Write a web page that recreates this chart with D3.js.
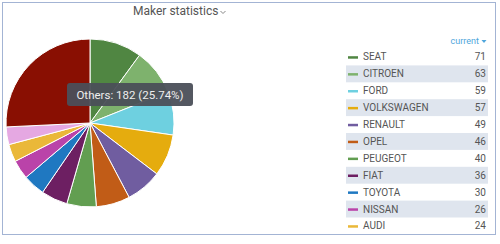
<!DOCTYPE html>
<html>
<head>
<meta charset="utf-8">
<script src="https://cdn.jsdelivr.net/npm/d3@7"></script>
<style>
	body { margin: 0; background: #fff; }
	svg { display: block; font-family: Roboto, "Open Sans", sans-serif; }
	.title { font-size: 12px; fill: #555; }
	.legend text { font-size: 10px; fill: #555; }
	.current { font-size: 9px; fill: #4fa6dc; }
	.tip { font-size: 11.5px; fill: #eee; }
</style>
</head>
<body>
<svg width="500" height="244"></svg>
<script>
// slices, clockwise from the top; the pink one is not listed in the visible legend
const makers = ['SEAT', 'CITROEN', 'FORD', 'VOLKSWAGEN', 'RENAULT', 'OPEL', 'PEUGEOT', 'FIAT', 'TOYOTA', 'NISSAN', 'AUDI', 'hidden', 'Others'];
const counts = [71, 63, 59, 57, 49, 46, 40, 36, 30, 26, 24, 24, 182];
const colours = ['#508642', '#7EB26D', '#6ED0E0', '#E5AC0E', '#705DA0', '#C15C17', '#629E51', '#6D1F62', '#1F78C1', '#BA43A9', '#EAB839', '#E5A8E2', '#890F02'];
const legendCount = 11;

const data = makers.map((name, i) => ({ name, value: counts[i], colour: colours[i] }));
const total = d3.sum(counts);

const svg = d3.select('svg');

svg.append('rect')
	.attr('x', 2.5)
	.attr('y', 2.5)
	.attr('width', 493)
	.attr('height', 232)
	.attr('fill', '#fff')
	.attr('stroke', '#a3b4d4');

svg.append('text')
	.text('Maker statistics')
	.attr('class', 'title')
	.attr('x', 133)
	.attr('y', 15);

svg.append('path')
	.attr('d', 'M 220.5 11 l 2.5 2.5 l 2.5 -2.5')
	.attr('fill', 'none')
	.attr('stroke', '#888')
	.attr('stroke-width', 1);

// pie
const pie = d3.pie().sort(null).value((d) => d.value);
const arc = d3.arc().innerRadius(0).outerRadius(84);

svg.append('g')
	.attr('transform', 'translate(90 123)')
	.selectAll('path')
	.data(pie(data))
	.enter()
	.append('path')
	.attr('d', arc)
	.attr('fill', (d) => d.data.colour)
	.attr('stroke', '#fff')
	.attr('stroke-width', 1);

// tooltip for the hovered slice
const others = data[data.length - 1];
const tip = svg.append('g').attr('transform', 'translate(67 83)');

tip.append('rect')
	.attr('width', 126)
	.attr('height', 23)
	.attr('rx', 3)
	.attr('fill', '#4b4f58')
	.attr('opacity', 0.95);

tip.append('text')
	.text(`${others.name}: ${others.value} (${(others.value / total * 100).toFixed(2)}%)`)
	.attr('class', 'tip')
	.attr('x', 63)
	.attr('y', 15.5)
	.attr('text-anchor', 'middle');

// legend
const rows = data.slice(0, legendCount);
const y = d3.scaleBand()
	.domain(rows.map((d) => d.name))
	.range([48.5, 48.5 + legendCount * 16.9]);

svg.append('text')
	.text('current')
	.attr('class', 'current')
	.attr('x', 479)
	.attr('y', 44)
	.attr('text-anchor', 'end');

svg.append('path')
	.attr('d', 'M 481.5 40 l 5 0 l -2.5 3 z')
	.attr('fill', '#4fa6dc');

const legend = svg.append('g')
	.attr('class', 'legend')
	.selectAll('g')
	.data(rows)
	.enter()
	.append('g')
	.attr('transform', (d) => `translate(0 ${y(d.name)})`);

legend.append('rect')
	.attr('x', 346)
	.attr('width', 142)
	.attr('height', y.bandwidth())
	.attr('fill', (d, i) => (i % 2 ? '#dfe5ee' : 'none'));

legend.append('line')
	.attr('x1', 348)
	.attr('x2', 358)
	.attr('y1', y.bandwidth() / 2 + 0.5)
	.attr('y2', y.bandwidth() / 2 + 0.5)
	.attr('stroke', (d) => d.colour)
	.attr('stroke-width', 2.5);

legend.append('text')
	.text((d) => d.name)
	.attr('x', 363)
	.attr('y', y.bandwidth() / 2 + 3.5);

legend.append('text')
	.text((d) => d.value)
	.attr('x', 486)
	.attr('y', y.bandwidth() / 2 + 3.5)
	.attr('text-anchor', 'end')
	.attr('fill', '#666');
</script>
</body>
</html>
